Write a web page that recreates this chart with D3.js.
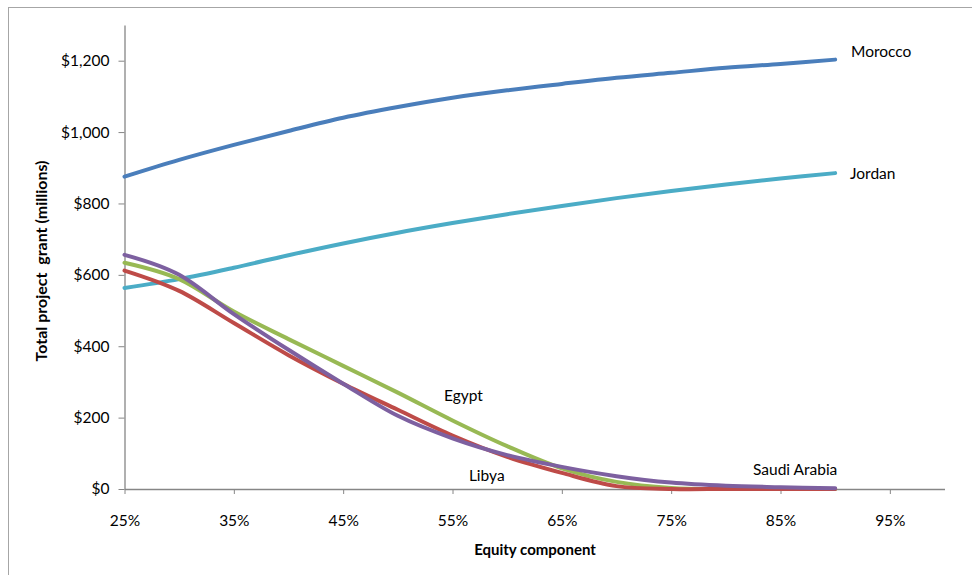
<!DOCTYPE html>
<html>
<head>
<meta charset="utf-8">
<script src="https://cdn.jsdelivr.net/npm/d3@7"></script>
<style>
  body { margin: 0; background: #fff; }
  svg text { font-family: Lato, "Open Sans", sans-serif; fill: #000; }
</style>
</head>
<body>
<svg id="chart" width="972" height="575"></svg>
<script>
// equity component (x values)
var equity = [0.25, 0.30, 0.35, 0.40, 0.45, 0.50, 0.55, 0.60, 0.65, 0.70, 0.75, 0.80, 0.85, 0.90];

// total project grant, $ millions
var morocco = [875, 922, 964, 1003, 1040, 1070, 1096, 1117, 1135, 1152, 1166, 1180, 1191, 1203];
var jordan  = [563, 588, 620, 655, 688, 718, 745, 770, 793, 815, 835, 853, 870, 885];
var libya   = [612, 555, 465, 375, 295, 222, 150, 90, 45, 8, 0, 0, 0, 0];
var egypt   = [634, 588, 497, 420, 345, 270, 192, 120, 58, 20, 3, 0, 0, 0];
var saudi   = [656, 600, 490, 390, 295, 205, 142, 95, 62, 36, 18, 9, 5, 2];

var seriesNames  = ["Morocco", "Jordan", "Libya", "Egypt", "Saudi Arabia"];
var seriesValues = [morocco, jordan, libya, egypt, saudi];
var seriesColors = ["#4a7ebb", "#4bacc6", "#be4b48", "#98b954", "#7d60a0"];

var xTicks = [0.25, 0.35, 0.45, 0.55, 0.65, 0.75, 0.85, 0.95];
var yTicks = [0, 200, 400, 600, 800, 1000, 1200];

// label anchors: [equity, value] where each name sits
var labelPos = {
  "Morocco":      [0.9145, 1210],
  "Jordan":       [0.9136, 868],
  "Egypt":        [0.5422, 246],
  "Libya":        [0.565, 22],
  "Saudi Arabia": [0.8249, 40]
};

var svg = d3.select("#chart");

// chart frame
svg.append("rect")
  .attr("x", 8.5).attr("y", 7.5)
  .attr("width", 1000).attr("height", 700)
  .attr("fill", "none").attr("stroke", "#a6a6a6").attr("stroke-width", 1);

var x = d3.scaleLinear().domain([0.25, 1.0]).range([124.5, 944.5]);
var y = d3.scaleLinear().domain([0, 1300]).range([489, 25]);

var axisColor = "#868686";

// x axis
var gx = svg.append("g").attr("transform", "translate(0,489)")
  .call(d3.axisBottom(x).tickValues(xTicks).tickFormat(d3.format(".0%"))
    .tickSizeInner(5).tickSizeOuter(0).tickPadding(21));
gx.select(".domain").attr("stroke", axisColor).attr("stroke-width", 1.3);
gx.selectAll(".tick line").attr("stroke", axisColor);
gx.selectAll(".tick text").attr("font-size", 15.5).attr("fill", "#000")
  .style("font-family", "Lato, sans-serif");

// y axis
var gy = svg.append("g").attr("transform", "translate(124.5,0)")
  .call(d3.axisLeft(y).tickValues(yTicks).tickFormat(function(d) { return "$" + d3.format(",")(d); })
    .tickSizeInner(6).tickSizeOuter(0).tickPadding(9));
gy.select(".domain").attr("stroke", axisColor).attr("stroke-width", 1.3);
gy.selectAll(".tick line").attr("stroke", axisColor);
gy.selectAll(".tick text").attr("font-size", 15.5).attr("fill", "#000")
  .style("font-family", "Lato, sans-serif");

// axis titles
svg.append("text")
  .attr("transform", "translate(47,261) rotate(-90)")
  .attr("text-anchor", "middle")
  .attr("font-size", 16).attr("font-weight", "bold")
  .style("white-space", "pre")
  .text("Total project  grant (millions)");

svg.append("text")
  .attr("x", 535).attr("y", 555)
  .attr("text-anchor", "middle")
  .attr("font-size", 15).attr("font-weight", "bold")
  .text("Equity component");

// lines
var line = d3.line()
  .x(function(d) { return x(d[0]); })
  .y(function(d) { return y(d[1]); })
  .curve(d3.curveCatmullRom.alpha(0));

var drawOrder = [1, 0, 3, 2, 4];
drawOrder.forEach(function(i) {
  var pts = equity.map(function(e, j) { return [e, seriesValues[i][j]]; });
  svg.append("path")
    .attr("d", line(pts))
    .attr("fill", "none")
    .attr("stroke", seriesColors[i])
    .attr("stroke-width", 4)
    .attr("stroke-linecap", "round");
});

// series labels
seriesNames.forEach(function(n) {
  svg.append("text")
    .attr("x", x(labelPos[n][0]))
    .attr("y", y(labelPos[n][1]))
    .attr("font-size", 15.5)
    .text(n);
});
</script>
</body>
</html>
